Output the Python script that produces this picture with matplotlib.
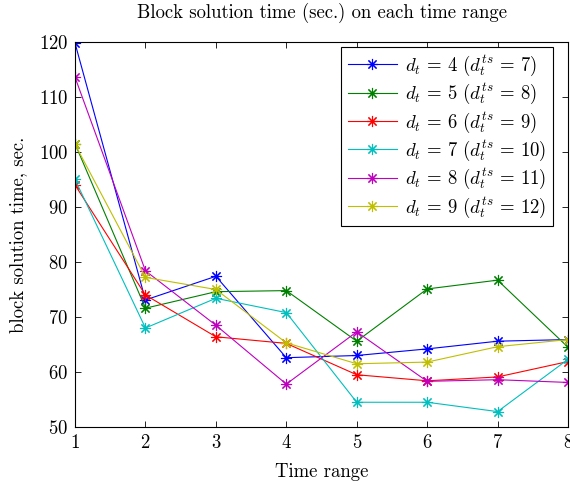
import matplotlib
matplotlib.use("Agg")
import matplotlib.pyplot as plt

plt.rcParams["font.family"] = "serif"
plt.rcParams["font.serif"] = ["cmr10"]
plt.rcParams["mathtext.fontset"] = "cm"
plt.rcParams["axes.formatter.use_mathtext"] = True

# data
time_range = [1, 2, 3, 4, 5, 6, 7, 8]
d4 = [119.8, 73.1, 77.4, 62.6, 63.0, 64.2, 65.6, 65.9]
d5 = [101.5, 71.6, 74.6, 74.8, 65.6, 75.1, 76.7, 64.5]
d6 = [94.0, 74.0, 66.4, 65.2, 59.5, 58.4, 59.1, 61.9]
d7 = [95.0, 68.0, 73.4, 70.8, 54.5, 54.5, 52.8, 62.3]
d8 = [113.6, 78.4, 68.5, 57.8, 67.3, 58.3, 58.6, 58.1]
d9 = [101.4, 77.2, 75.0, 65.3, 61.5, 61.8, 64.6, 65.9]
dt_vals = [4, 5, 6, 7, 8, 9]
dts_vals = [7, 8, 9, 10, 11, 12]

series = [d4, d5, d6, d7, d8, d9]
colors = ["#0000ff", "#008000", "#ff0000", "#00bfbf", "#bf00bf", "#bfbf00"]
fs = 13.5

fig = plt.figure(figsize=(5.7, 4.86), dpi=100)
ax = fig.add_axes([0.1316, 0.1214, 0.8649, 0.7922])

for vals, c, dt, dts in zip(series, colors, dt_vals, dts_vals):
    ax.plot(time_range, vals, color=c, lw=0.8, marker=(8, 2, 0), ms=8, mew=0.8,
            label=r"$d_t\,=\,%d\ (d_t^{ts}\,=\,%d)$" % (dt, dts))

ax.set_xlim(1, 8)
ax.set_ylim(50, 120)
ax.set_xticks(range(1, 9))
ax.set_yticks(range(50, 121, 10))
ax.tick_params(direction="in", top=True, right=True, labelsize=fs, length=4, width=0.6, pad=5)
for s in ax.spines.values():
    s.set_linewidth(0.8)

ax.set_title("Block solution time (sec.) on each time range", fontsize=fs, pad=17)
ax.set_xlabel("Time range", fontsize=fs, labelpad=8)
ax.set_ylabel("block solution time, sec.", fontsize=fs, labelpad=8)

leg = ax.legend(loc="upper right", bbox_to_anchor=(0.9696, 0.986), fontsize=fs,
                fancybox=False, framealpha=1, edgecolor="black", borderaxespad=0,
                handlelength=2.6, handletextpad=0.45, labelspacing=0.22, borderpad=0.35)
leg.get_frame().set_linewidth(0.8)

fig.savefig("out.png", dpi=100)
